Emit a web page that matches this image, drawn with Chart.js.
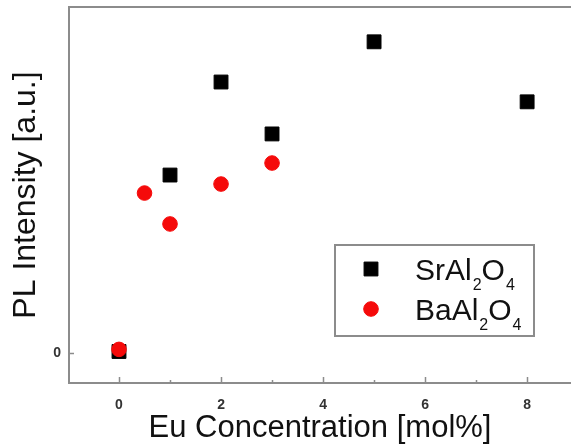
<!DOCTYPE html>
<html>
<head>
<meta charset="utf-8">
<script src="https://cdn.jsdelivr.net/npm/chart.js@4/dist/chart.umd.min.js"></script>
<style>
  html, body { margin: 0; padding: 0; background: #fff; overflow: hidden; }
  #plot { display: block; }
</style>
</head>
<body>
<canvas id="plot" width="571" height="446"></canvas>
<script>
"use strict";

/* ---------- data ---------- */
const srConc = [0, 1, 2, 3, 5, 8];
const srIntensity = [0.005, 0.593, 0.903, 0.73, 1.037, 0.837];
const baConc = [0, 0.5, 1, 2, 3];
const baIntensity = [0.012, 0.533, 0.43, 0.563, 0.633];

const xMajorTicks = [0, 2, 4, 6, 8];
const xMinorTicks = [1, 3, 5, 7];
const yTicks = [0];

const AXIS_GRAY = "#8c8c8c";
const FONT = "'Liberation Sans', Arial, sans-serif";

function toPoints(xs, ys) {
  return xs.map((x, i) => ({ x: x, y: ys[i] }));
}

/* ---------- frame, inward ticks and legend ---------- */
const framePlugin = {
  id: "frame",
  afterDraw(chart) {
    const ctx = chart.ctx;
    const a = chart.chartArea;
    const xs = chart.scales.x;
    const ys = chart.scales.y;
    ctx.save();
    ctx.strokeStyle = AXIS_GRAY;
    ctx.lineWidth = 2;
    ctx.beginPath();
    ctx.moveTo(a.right + 2, a.top);
    ctx.lineTo(a.left, a.top);
    ctx.lineTo(a.left, a.bottom);
    ctx.lineTo(a.right + 2, a.bottom);
    ctx.stroke();

    ctx.lineWidth = 1.5;
    ctx.beginPath();
    xMajorTicks.forEach(v => {
      const px = Math.round(xs.getPixelForValue(v)) + 0.5;
      ctx.moveTo(px, a.bottom);
      ctx.lineTo(px, a.bottom - 6);
    });
    xMinorTicks.forEach(v => {
      const px = Math.round(xs.getPixelForValue(v)) + 0.5;
      ctx.moveTo(px, a.bottom);
      ctx.lineTo(px, a.bottom - 3);
    });
    yTicks.forEach(v => {
      const py = Math.round(ys.getPixelForValue(v)) + 0.5;
      ctx.moveTo(a.left, py);
      ctx.lineTo(a.left + 5, py);
    });
    ctx.stroke();
    ctx.restore();
  }
};

const legendPlugin = {
  id: "boxLegend",
  afterDraw(chart) {
    const ctx = chart.ctx;
    const box = { x: 335, y: 245, w: 199, h: 91 };
    ctx.save();
    ctx.fillStyle = "#fff";
    ctx.fillRect(box.x, box.y, box.w, box.h);
    ctx.strokeStyle = AXIS_GRAY;
    ctx.lineWidth = 2;
    ctx.strokeRect(box.x, box.y, box.w, box.h);

    const rows = [
      { ds: chart.data.datasets[0], parts: ["SrAl", "2", "O", "4"], base: 280 },
      { ds: chart.data.datasets[1], parts: ["BaAl", "2", "O", "4"], base: 320 }
    ];
    rows.forEach(r => {
      ctx.fillStyle = r.ds.backgroundColor;
      ctx.strokeStyle = r.ds.borderColor;
      ctx.lineWidth = 1;
      Chart.helpers.drawPoint(ctx, {
        pointStyle: r.ds.pointStyle,
        radius: r.ds.pointRadius,
        rotation: 0,
        borderWidth: 1
      }, 371, r.base - 11);

      let x = 415;
      ctx.fillStyle = "#111";
      ctx.textBaseline = "alphabetic";
      ctx.textAlign = "left";
      r.parts.forEach((t, i) => {
        const sub = i % 2 === 1;
        ctx.font = (sub ? "16px " : "30px ") + FONT;
        ctx.fillText(t, x, sub ? r.base + 10 : r.base);
        x += ctx.measureText(t).width + (sub ? 0 : 1);
      });
    });
    ctx.restore();
  }
};

/* ---------- chart ---------- */
new Chart(document.getElementById("plot"), {
  type: "scatter",
  data: {
    datasets: [
      {
        label: "SrAl2O4",
        data: toPoints(srConc, srIntensity),
        pointStyle: "rect",
        pointRadius: 9.8,
        backgroundColor: "#000000",
        borderColor: "#000000",
        borderWidth: 1,
        order: 2
      },
      {
        label: "BaAl2O4",
        data: toPoints(baConc, baIntensity),
        pointStyle: "circle",
        pointRadius: 7.3,
        backgroundColor: "#f50a0a",
        borderColor: "#f50a0a",
        borderWidth: 1,
        order: 1
      }
    ]
  },
  options: {
    responsive: false,
    animation: false,
    layout: { autoPadding: false, padding: { top: 7, left: 0, right: 0, bottom: 0 } },
    plugins: {
      legend: { display: false },
      tooltip: { enabled: false }
    },
    scales: {
      x: {
        type: "linear",
        min: -0.98,
        max: 8.86,
        afterBuildTicks: s => { s.ticks = xMajorTicks.map(v => ({ value: v })); },
        afterFit: s => { s.height = 63; s.paddingLeft = 0; s.paddingRight = 0; },
        grid: { display: false, drawTicks: false },
        border: { display: false },
        ticks: {
          padding: 14,
          color: "#333",
          font: { family: FONT, size: 14, weight: "bold" }
        },
        title: {
          display: true,
          text: "Eu Concentration [mol%]",
          color: "#111",
          font: { family: FONT, size: 31, lineHeight: 1 },
          padding: { top: 0, bottom: 2 }
        }
      },
      y: {
        type: "linear",
        min: -0.1,
        max: 1.153,
        afterBuildTicks: s => { s.ticks = yTicks.map(v => ({ value: v })); },
        afterFit: s => { s.width = 69; s.paddingTop = 0; s.paddingBottom = 0; },
        grid: { display: false, drawTicks: false },
        border: { display: false },
        ticks: {
          padding: 8,
          color: "#333",
          font: { family: FONT, size: 14, weight: "bold" }
        },
        title: {
          display: true,
          text: "PL Intensity [a.u.]",
          color: "#111",
          font: { family: FONT, size: 32, lineHeight: 1 },
          padding: { top: 10, bottom: 0 }
        }
      }
    }
  },
  plugins: [framePlugin, legendPlugin]
});
</script>
</body>
</html>
